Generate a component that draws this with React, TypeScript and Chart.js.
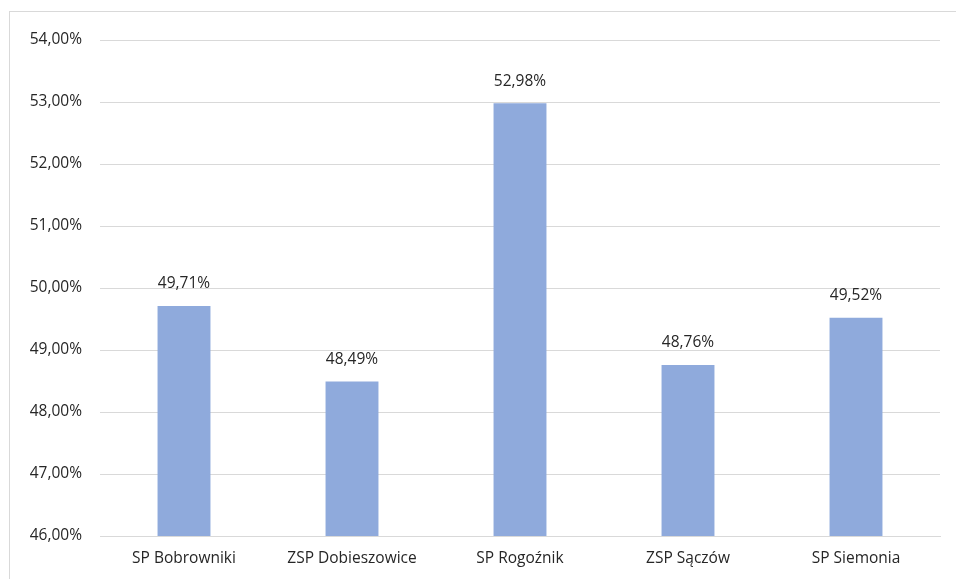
import React, { useEffect, useRef } from "react";
import { Chart, registerables } from "chart.js";
Chart.register(...registerables);

const categories = ["SP Bobrowniki", "ZSP Dobieszowice", "SP Rogoźnik", "ZSP Sączów", "SP Siemonia"];
const values = [49.71, 48.49, 52.98, 48.76, 49.52];
const yMin = 46;
const yMax = 54;

const fmt = (v: number) => v.toFixed(2).replace(".", ",") + "%";
const FONT = "Open Sans";
const COLOR = "#262626";
const SIZE = 15.5;

const labelPlugin = {
  id: "valueLabels",
  afterDatasetsDraw(chart: any) {
    const ctx = chart.ctx;
    const meta = chart.getDatasetMeta(0);
    ctx.save();
    ctx.font = `${SIZE}px "${FONT}"`;
    ctx.fillStyle = COLOR;
    ctx.textAlign = "center";
    ctx.textBaseline = "middle";
    meta.data.forEach((el: any, i: number) => {
      ctx.fillText(fmt(values[i]), el.x, el.y - 22);
    });
    ctx.restore();
  },
};

export default function App() {
  const ref = useRef<HTMLCanvasElement>(null);
  useEffect(() => {
    const chart = new Chart(ref.current!, {
      type: "bar",
      data: {
        labels: categories,
        datasets: [
          {
            data: values,
            backgroundColor: "#8FAADC",
            categoryPercentage: 1,
            barPercentage: 0.315,
          },
        ],
      },
      options: {
        animation: false,
        responsive: false,
        maintainAspectRatio: false,
        layout: { padding: { top: 28, right: 13, left: 0, bottom: 0 } },
        plugins: { legend: { display: false }, tooltip: { enabled: false } },
        scales: {
          x: {
            grid: { display: false, drawTicks: false },
            border: { color: "#d9d9d9", width: 1 },
            ticks: { font: { family: FONT, size: SIZE }, color: COLOR, padding: 13, maxRotation: 0 },
            afterFit: (s: any) => { s.height = 42; },
          },
          y: {
            min: yMin,
            max: yMax,
            grid: { color: "#d9d9d9", drawTicks: false },
            border: { display: false },
            ticks: {
              stepSize: 1,
              font: { family: FONT, size: SIZE },
              color: COLOR,
              padding: 18,
              callback: (v: any) => fmt(Number(v)),
            },
            afterFit: (s: any) => { s.width = 90; },
          },
        },
      },
      plugins: [labelPlugin],
    });
    return () => chart.destroy();
  }, []);
  return (
    <div
      style={{
        position: "absolute",
        left: 9,
        top: 11,
        width: 960,
        height: 580,
        borderTop: "1px solid #d9d9d9",
        borderLeft: "1px solid #d9d9d9",
        background: "#fff",
      }}
    >
      <canvas ref={ref} width={943} height={566} style={{ display: "block" }} />
    </div>
  );
}
